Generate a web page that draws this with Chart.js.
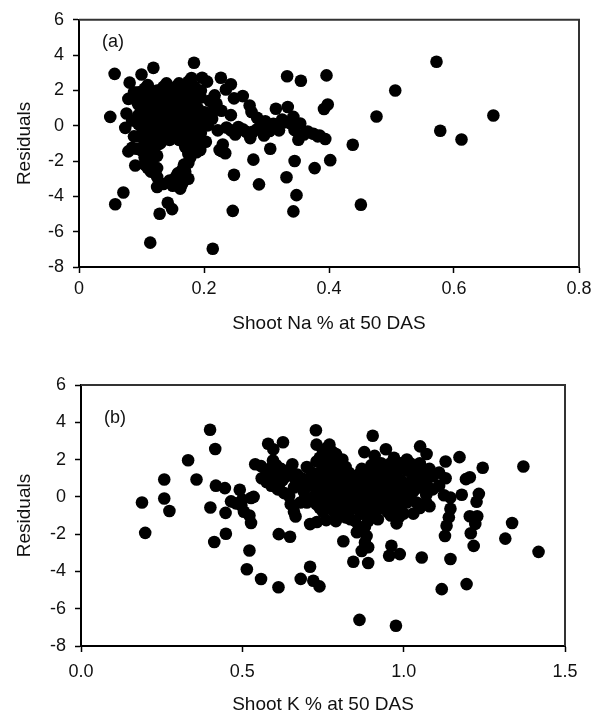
<!DOCTYPE html>
<html>
<head>
<meta charset="utf-8">
<script src="https://cdn.jsdelivr.net/npm/chart.js@4.4.1/dist/chart.umd.min.js"></script>
<style>
	body { margin: 0; background: #fff; }
	#wrap { position: relative; width: 602px; height: 716px; }
	canvas { position: absolute; left: 0; }
	#chartNa { top: 0; }
	#chartK { top: 345px; }
</style>
</head>
<body>
<div id="wrap">
	<canvas id="chartNa" width="602" height="345"></canvas>
	<canvas id="chartK" width="602" height="371"></canvas>
</div>
<script>
// (a) residuals vs shoot Na %
var naPoints = [
	[0.050,0.50],[0.057,2.94],[0.058,-4.45],[0.071,-3.78],[0.081,2.44],[0.100,2.90],[0.119,3.28],[0.184,3.57],
	[0.114,-6.62],[0.214,-6.97],[0.129,-4.98],[0.142,-4.36],[0.149,-4.72],
	[0.572,3.62],[0.506,2.00],[0.476,0.52],[0.663,0.58],[0.578,-0.28],[0.612,-0.78],[0.438,-1.08],[0.451,-4.47],
	[0.402,-1.95],[0.396,2.85],[0.398,1.20],[0.392,0.95],[0.394,-0.75],[0.385,-0.55],[0.377,-2.40],
	[0.333,2.80],[0.355,2.55],[0.345,-2.00],[0.348,-3.93],[0.332,-2.92],[0.343,-4.85],
	[0.306,-1.30],[0.288,-3.32],[0.279,-1.92],[0.248,-2.78],[0.246,-4.82],
	[0.079,1.52],[0.076,0.69],[0.074,-0.12],[0.079,-1.45],[0.090,-2.25],[0.085,-1.25],[0.088,1.90],[0.092,1.40],
	[0.085,0.30],[0.088,-0.60],[0.092,-1.30],
	[0.197,2.72],[0.205,2.50],[0.217,1.72],[0.227,2.72],[0.243,2.35],[0.235,2.05],[0.262,1.68],[0.248,1.55],
	[0.243,0.60],[0.273,1.15],[0.276,0.78],[0.285,0.45],[0.290,-0.05],[0.298,0.25],[0.301,-0.05],[0.315,0.96],
	[0.334,1.06],[0.343,0.50],[0.354,0.13],[0.351,-0.79],[0.366,-0.33],[0.382,-0.60],
	[0.278,-0.35],[0.268,-0.35],[0.255,-0.07],[0.243,-0.26],[0.258,-0.23],[0.274,-0.70],[0.296,-0.55],[0.311,0.11],
	[0.320,-0.26],[0.325,0.35],
	[0.222,-0.26],[0.206,0.02],[0.213,0.40],[0.228,0.85],[0.220,1.25],[0.209,1.41],[0.230,-1.06],[0.228,-1.43],
	[0.225,-1.37],[0.234,-1.56],[0.203,-0.91],[0.194,-1.37],[0.197,-0.97],[0.189,-1.25],[0.201,0.76],[0.215,0.85],
	[0.236,-0.10],[0.250,-0.50],[0.262,-0.20],[0.285,-0.20],[0.305,-0.30],[0.315,-0.10],[0.330,0.20],[0.340,0.10],
	[0.345,-0.25],[0.360,-0.50],[0.375,-0.45],
	[0.095,1.90],[0.095,1.20],[0.095,0.60],[0.095,0.10],[0.095,-0.60],
	[0.105,2.10],[0.105,1.50],[0.105,0.90],[0.105,0.30],[0.105,-0.30],[0.105,-1.00],[0.105,-1.80],[0.105,-2.20],
	[0.115,1.80],[0.115,1.20],[0.115,0.50],[0.115,-0.10],[0.115,-0.70],[0.115,-1.40],[0.115,-2.00],[0.115,-2.60],
	[0.125,2.00],[0.125,1.40],[0.125,0.80],[0.125,0.20],[0.125,-0.40],[0.125,-1.10],[0.125,-1.70],[0.125,-2.40],[0.125,-2.90],
	[0.135,2.20],[0.135,1.60],[0.135,1.00],[0.135,0.40],[0.135,-0.20],[0.135,-0.80],
	[0.145,2.10],[0.145,1.50],[0.145,0.70],[0.145,0.00],[0.145,-0.80],[0.145,-3.10],
	[0.155,2.20],[0.155,1.30],[0.155,0.90],[0.155,0.20],[0.155,-0.50],[0.155,-2.90],
	[0.165,1.90],[0.165,1.10],[0.165,0.50],[0.165,-0.30],[0.165,-2.50],[0.165,-3.30],
	[0.175,2.50],[0.175,1.70],[0.175,0.90],[0.175,0.10],[0.175,-0.60],[0.175,-1.60],[0.175,-2.10],[0.175,-3.00],
	[0.185,2.20],[0.185,1.40],[0.185,0.60],[0.185,-0.20],[0.185,-1.00],[0.185,-1.40],
	[0.195,2.00],[0.195,1.60],[0.195,0.40],[0.195,-0.40],
	[0.100,1.60],[0.100,0.90],[0.100,0.20],[0.100,-0.50],[0.100,-1.40],
	[0.110,2.30],[0.110,1.00],[0.110,0.00],[0.110,-1.20],[0.110,-2.40],
	[0.120,1.60],[0.120,0.40],[0.120,-0.60],[0.120,-1.80],
	[0.130,1.70],[0.130,0.60],[0.130,-0.50],[0.130,-1.00],
	[0.140,2.40],[0.140,1.20],[0.140,0.30],[0.140,-0.40],
	[0.150,1.80],[0.150,0.40],[0.150,-0.30],[0.150,-3.40],
	[0.160,2.40],[0.160,1.50],[0.160,0.00],[0.160,-0.80],
	[0.170,2.20],[0.170,1.30],[0.170,0.30],[0.170,-1.20],[0.170,-2.60],
	[0.180,2.70],[0.180,1.90],[0.180,1.00],[0.180,0.40],[0.180,-0.40],
	[0.190,1.00],[0.190,0.20],[0.190,-0.70],
	[0.125,-3.47],[0.162,-3.56],[0.170,-3.00],[0.135,-3.30],[0.150,-3.10],[0.158,-2.70],[0.168,-2.20],[0.178,-1.80],
	[0.188,-1.50],[0.193,-1.10]
];

// (b) residuals vs shoot K %
var kPoints = [
	[0.189,-0.30],[0.199,-1.93],[0.258,0.93],[0.258,-0.09],[0.274,-0.76],[0.332,1.96],[0.358,0.93],[0.400,3.60],
	[0.416,2.57],[0.401,-0.57],[0.413,-2.42],[0.418,0.60],
	[0.446,0.47],[0.448,-0.86],[0.449,-1.98],[0.465,-0.24],[0.492,0.38],[0.497,-0.46],[0.527,-0.06],[0.522,-1.00],
	[0.527,-1.40],[0.522,-2.88],[0.514,-3.88],[0.558,-4.41],[0.612,-4.85],[0.613,-2.00],[0.648,-2.14],[0.710,-3.75],
	[0.681,-4.40],[0.720,-4.50],[0.739,-4.80],[0.505,-0.80],[0.480,-0.35],[0.500,-0.15],[0.535,0.00],
	[0.540,1.75],[0.558,1.65],[0.580,2.85],[0.596,2.55],[0.626,2.93],[0.728,3.57],[0.904,3.28],[0.878,2.40],
	[0.945,2.55],[1.051,2.71],[1.071,2.30],[1.130,1.90],[1.173,2.13],[1.245,1.56],[1.371,1.63],
	[1.205,1.05],[1.193,0.95],[1.180,0.11],[1.233,0.16],[1.226,-0.26],[1.145,-0.04],[1.125,0.09],[1.145,-0.64],
	[1.140,-1.10],[1.133,-1.55],[1.128,-2.10],[1.205,-1.04],[1.228,-1.04],[1.222,-1.45],[1.208,-1.95],[1.217,-2.63],
	[1.315,-2.24],[1.336,-1.40],[1.418,-2.95],[1.145,-3.33],[1.056,-3.25],[1.118,-4.95],[1.195,-4.68],
	[0.976,-6.91],[0.863,-6.60],[0.844,-3.48],[0.890,-3.55],[0.870,-2.90],[0.890,-2.70],[0.955,-3.16],[0.962,-2.62],
	[0.988,-3.07],[0.813,-2.38],[0.880,-2.45],[0.885,-2.10],[0.855,-1.90],[0.862,-1.60],[0.978,-1.42],[0.985,-1.10],
	[0.710,-1.46],[0.731,-1.35],[0.760,-1.25],[0.790,-1.30],[0.800,-1.00],[0.835,-1.20],
	[0.560,1.00],[0.575,0.80],[0.590,0.60],[0.575,1.30],[0.600,1.10],[0.610,0.40],[0.625,0.90],[0.630,0.20],
	[0.645,0.05],[0.660,0.50],[0.640,1.40],[0.655,1.75],[0.670,1.20],[0.675,0.70],[0.680,-0.30],[0.690,0.30],
	[0.700,1.60],[0.715,1.30],[0.650,-0.40],[0.660,-0.80],[0.665,-1.05],[0.700,-0.30],[0.620,1.50],[0.605,1.70],
	[0.595,1.95],[0.585,1.50],[0.615,0.70],[0.635,1.10],[0.665,0.90],[0.685,1.00],[0.695,0.00],[0.705,0.60],
	[0.720,0.90],[0.720,0.00],
	[0.730,2.80],[0.730,1.90],[0.730,1.10],[0.730,0.40],[0.730,-0.40],
	[0.750,2.40],[0.750,1.50],[0.750,0.70],[0.750,0.00],[0.750,-0.80],
	[0.770,2.80],[0.770,2.00],[0.770,1.20],[0.770,0.30],[0.770,-0.50],
	[0.790,2.30],[0.790,1.50],[0.790,0.80],[0.790,-0.20],[0.790,-0.90],
	[0.810,2.00],[0.810,1.10],[0.810,0.30],[0.810,-0.50],
	[0.830,1.30],[0.830,0.60],[0.830,-0.10],[0.830,-0.80],
	[0.850,0.90],[0.850,0.20],[0.850,-0.50],[0.850,-1.30],
	[0.870,1.50],[0.870,0.50],[0.870,-0.20],[0.870,-0.90],
	[0.890,1.20],[0.890,0.70],[0.890,-0.10],[0.890,-0.70],[0.890,-1.30],
	[0.910,2.20],[0.910,1.40],[0.910,0.50],[0.910,-0.40],[0.910,-0.90],
	[0.930,1.80],[0.930,1.00],[0.930,0.20],[0.930,-0.60],
	[0.950,1.50],[0.950,0.60],[0.950,-0.20],[0.950,-0.80],
	[0.970,2.10],[0.970,1.20],[0.970,0.40],[0.970,-0.50],
	[0.990,1.80],[0.990,0.90],[0.990,0.00],[0.990,-0.60],
	[1.010,2.00],[1.010,1.40],[1.010,0.60],[1.010,-0.30],
	[1.030,1.60],[1.030,1.00],[1.030,0.30],[1.030,-0.90],
	[1.050,1.80],[1.050,1.20],[1.050,0.50],[1.050,-0.60],
	[1.070,1.30],[1.070,0.70],[1.070,0.10],[1.070,-0.30],
	[1.090,1.10],[1.090,0.40],[1.110,1.30],[1.110,0.60],[1.130,1.00],
	[0.740,2.10],[0.740,1.30],[0.740,0.20],[0.740,-0.60],
	[0.760,2.60],[0.760,1.70],[0.760,0.90],[0.760,-0.20],
	[0.780,2.40],[0.780,1.00],[0.780,0.50],[0.780,-0.70],
	[0.800,1.80],[0.800,0.60],[0.800,0.00],[0.800,-0.40],
	[0.820,1.60],[0.820,0.90],[0.820,0.20],[0.820,-1.10],
	[0.840,1.10],[0.840,0.40],[0.840,-0.30],
	[0.860,1.20],[0.860,0.00],[0.860,-0.70],
	[0.880,0.90],[0.880,0.30],[0.880,-0.50],[0.880,-1.60],
	[0.900,1.70],[0.900,0.90],[0.900,0.10],[0.900,-0.50],
	[0.920,1.60],[0.920,0.70],[0.920,-0.20],[0.920,-1.20],
	[0.940,1.20],[0.940,0.40],[0.940,-0.50],
	[0.960,1.80],[0.960,0.80],[0.960,0.10],[0.960,-1.00],
	[0.980,1.40],[0.980,0.60],[0.980,-0.30],
	[1.000,1.60],[1.000,0.30],[1.000,-0.90],
	[1.020,1.80],[1.020,0.80],[1.020,0.00],
	[1.040,1.40],[1.040,0.60],[1.040,-0.30],
	[1.060,1.50],[1.060,0.90],[1.080,1.50],[1.080,-0.50]
];

var yTicksMin = -8;
var yTicksMax = 6;

var FONT = "'Liberation Sans', Arial, sans-serif";

// box around the plot area (top / right edges)
var frameLines = {
	id: 'frameLines',
	afterDraw: function(chart) {
		var a = chart.chartArea;
		var ctx = chart.ctx;
		ctx.save();
		ctx.strokeStyle = '#333';
		ctx.lineWidth = 2;
		ctx.beginPath();
		ctx.moveTo(a.left, a.top);
		ctx.lineTo(a.right, a.top);
		ctx.lineTo(a.right, a.bottom);
		ctx.stroke();
		ctx.restore();
	}
};

// panel tag like "(a)"
var panelTag = {
	id: 'panelTag',
	afterDraw: function(chart, args, opts) {
		var ctx = chart.ctx;
		ctx.save();
		ctx.fillStyle = '#111';
		ctx.font = '18px ' + FONT;
		ctx.textBaseline = 'middle';
		ctx.fillText(opts.text, chart.chartArea.left + opts.dx, chart.chartArea.top + opts.dy);
		ctx.restore();
	}
};

function makeChart(id, points, o) {
	var ctx = document.getElementById(id);
	return new Chart(ctx, {
		type: 'scatter',
		data: {
			datasets: [{
				data: points.map(function(p) { return {x: p[0], y: p[1]}; }),
				backgroundColor: '#000',
				borderWidth: 0,
				pointRadius: 6.3,
				pointHoverRadius: 6.3
			}]
		},
		options: {
			responsive: false,
			animation: false,
			devicePixelRatio: 1,
			layout: {
				padding: { left: 0, top: o.top, right: o.right, bottom: 0 }
			},
			plugins: {
				legend: { display: false },
				tooltip: { enabled: false },
				panelTag: { text: o.tag, dx: 23, dy: o.tagDy }
			},
			scales: {
				x: {
					type: 'linear',
					min: 0,
					max: o.xMax,
					afterFit: function(s) { s.height = o.xAxisH; },
					ticks: {
						stepSize: o.xStep,
						color: '#111',
						font: { family: FONT, size: 18 },
						padding: o.xTickPad,
						callback: o.xFmt
					},
					grid: { drawOnChartArea: false, color: '#000', tickLength: 6, tickWidth: 1.5 },
					border: { display: true, color: '#000', width: 2 },
					title: {
						display: true,
						text: o.xTitle,
						color: '#111',
						font: { family: FONT, size: 19 },
						padding: { top: 0, bottom: o.xTitlePad }
					}
				},
				y: {
					type: 'linear',
					min: yTicksMin,
					max: yTicksMax,
					afterFit: function(s) { s.width = o.yAxisW; },
					ticks: {
						stepSize: 2,
						color: '#111',
						font: { family: FONT, size: 18 },
						padding: 9
					},
					grid: { drawOnChartArea: false, color: '#000', tickLength: 6, tickWidth: 1.5 },
					border: { display: true, color: '#000', width: 2 },
					title: {
						display: true,
						text: 'Residuals',
						color: '#111',
						font: { family: FONT, size: 19 },
						padding: { top: 13, bottom: 0 }
					}
				}
			}
		},
		plugins: [frameLines, panelTag]
	});
}

makeChart('chartNa', naPoints, {
	tag: '(a)', tagDy: 22, top: 14, right: 23, xMax: 0.8, xStep: 0.2, xAxisH: 78, yAxisW: 79,
	xTickPad: 5, xTitlePad: 10,
	xTitle: 'Shoot Na % at 50 DAS',
	xFmt: function(v) { return v === 0 ? '0' : (Math.round(v * 10) / 10).toString(); }
});

makeChart('chartK', kPoints, {
	tag: '(b)', tagDy: 33, top: 40, right: 37, xMax: 1.5, xStep: 0.5, xAxisH: 70, yAxisW: 81,
	xTickPad: 9, xTitlePad: 0,
	xTitle: 'Shoot K % at 50 DAS',
	xFmt: function(v) { return v.toFixed(1); }
});
</script>
</body>
</html>
